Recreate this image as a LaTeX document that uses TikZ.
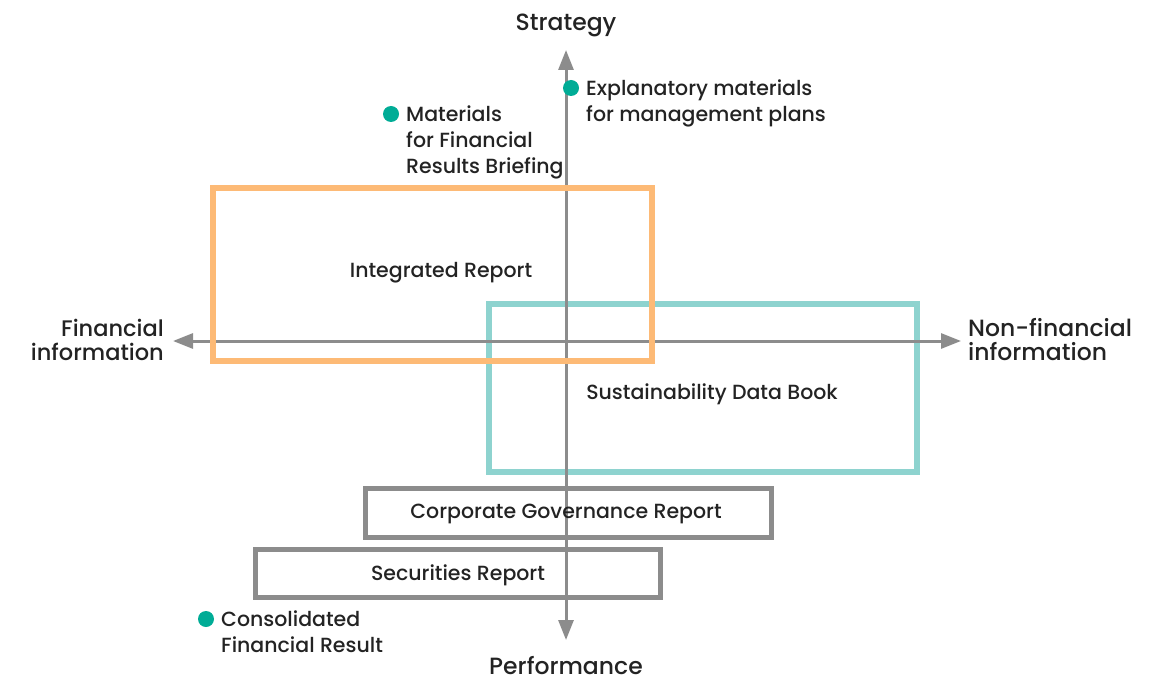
\documentclass[tikz,border=0pt]{standalone}
\usepackage{fontspec}
\setmainfont{Poppins}
\newfontfamily\pmed{Poppins Medium}
\usetikzlibrary{arrows.meta}
\definecolor{axisgray}{RGB}{140,140,140}
\definecolor{boxorange}{RGB}{253,186,118}
\definecolor{boxteal}{RGB}{142,211,207}
\definecolor{boxgray}{RGB}{140,140,140}
\definecolor{dotteal}{RGB}{0,172,150}
\definecolor{txt}{RGB}{35,35,35}
\tikzset{
  axis/.style={draw=axisgray, line width=3pt, -{Triangle[length=20pt,width=15pt]}},
  frame/.style={line width=6.5pt},
  grayframe/.style={draw=boxgray, line width=5pt},
  lbl/.style={text=txt, font=\pmed\fontsize{20.5}{26}\selectfont, inner sep=0pt},
  axlbl/.style={text=txt, font=\pmed\fontsize{23.5}{24}\selectfont, inner sep=0pt},
  dot/.style={circle, fill=dotteal, minimum size=16pt, inner sep=0pt},
}
\begin{document}
\begin{tikzpicture}[x=1pt,y=-1pt]
\useasboundingbox (0,0) rectangle (1164,679);
% teal box (under axes)
\draw[frame, draw=boxteal] (489,304) rectangle (917,472);
% axes
\coordinate (vtop) at (566,50);
\coordinate (vbot) at (566,640);
\coordinate (hleft) at (173,341);
\coordinate (hright) at (961,341);
\draw[axis] (566,341) -- (vtop);
\draw[axis] (566,341) -- (vbot);
\draw[axis] (566,341) -- (hleft);
\draw[axis] (566,341) -- (hright);
% orange box
\draw[frame, draw=boxorange] (213,188) rectangle (652,361);
% gray boxes
\draw[grayframe] (365,488) rectangle (771,537);
\draw[grayframe] (255,549) rectangle (660,597);
% box labels
\node[lbl] (ir) at (441,273) {Integrated Report};
\node[lbl] (sdb) at (712,394) {Sustainability Data Book};
\node[lbl] (cgr) at (566,514) {Corporate Governance Report};
\node[lbl] (sr) at (458,575) {Securities Report};
% axis labels
\node[axlbl] (strat) at (566,25) {Strategy};
\node[axlbl] (perf) at (566,666) {Performance};
\node[axlbl, font=\pmed\fontsize{22.5}{24}\selectfont, anchor=east, align=right] (fin) at (164,340) {Financial\\information};
\node[axlbl, anchor=west, align=left] (nonfin) at (968,340) {Non-financial\\information};
% dots and notes
\node[dot] (d1) at (571,88) {};
\node[lbl, anchor=north west, align=left] (t1) at (586,80) {Explanatory materials\\for management plans};
\node[dot] (d2) at (391,114) {};
\node[lbl, anchor=north west, align=left] (t2) at (406,106) {Materials\\for Financial\\Results Briefing};
\node[dot] (d3) at (206,619) {};
\node[lbl, anchor=north west, align=left] (t3) at (221,611) {Consolidated\\Financial Result};
\end{tikzpicture}
\end{document}
